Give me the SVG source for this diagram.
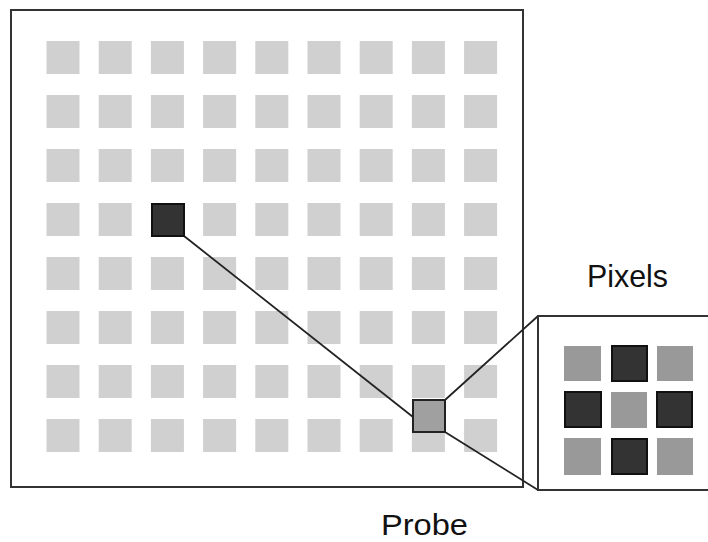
<svg xmlns="http://www.w3.org/2000/svg" width="708" height="542" viewBox="0 0 708 542">
<defs>
<style>
.cell{fill:#d0d0d0}
.frame{fill:#fff;stroke:#333;stroke-width:2}
.dark{fill:#333;stroke:#111;stroke-width:2}
.mid{fill:#999}
.probe{fill:#a0a0a0;stroke:#222;stroke-width:2}
.conn{stroke:#222;stroke-width:1.8;fill:none}
.lbl{font-family:"Liberation Sans",Arial,sans-serif;font-size:32px;fill:#111}
</style>
<rect id="c" class="cell" width="33" height="33"/>
</defs>
<rect width="708" height="542" fill="#fff"/>
<g id="image">
<rect class="frame" x="11" y="10" width="512" height="477"/>
<g id="grid">
<use href="#c" x="46.5" y="41"/><use href="#c" x="98.7" y="41"/><use href="#c" x="150.9" y="41"/><use href="#c" x="203.1" y="41"/><use href="#c" x="255.3" y="41"/><use href="#c" x="307.5" y="41"/><use href="#c" x="359.7" y="41"/><use href="#c" x="411.9" y="41"/><use href="#c" x="464.1" y="41"/>
<use href="#c" x="46.5" y="95"/><use href="#c" x="98.7" y="95"/><use href="#c" x="150.9" y="95"/><use href="#c" x="203.1" y="95"/><use href="#c" x="255.3" y="95"/><use href="#c" x="307.5" y="95"/><use href="#c" x="359.7" y="95"/><use href="#c" x="411.9" y="95"/><use href="#c" x="464.1" y="95"/>
<use href="#c" x="46.5" y="149"/><use href="#c" x="98.7" y="149"/><use href="#c" x="150.9" y="149"/><use href="#c" x="203.1" y="149"/><use href="#c" x="255.3" y="149"/><use href="#c" x="307.5" y="149"/><use href="#c" x="359.7" y="149"/><use href="#c" x="411.9" y="149"/><use href="#c" x="464.1" y="149"/>
<use href="#c" x="46.5" y="203"/><use href="#c" x="98.7" y="203"/><use href="#c" x="203.1" y="203"/><use href="#c" x="255.3" y="203"/><use href="#c" x="307.5" y="203"/><use href="#c" x="359.7" y="203"/><use href="#c" x="411.9" y="203"/><use href="#c" x="464.1" y="203"/>
<use href="#c" x="46.5" y="257"/><use href="#c" x="98.7" y="257"/><use href="#c" x="150.9" y="257"/><use href="#c" x="203.1" y="257"/><use href="#c" x="255.3" y="257"/><use href="#c" x="307.5" y="257"/><use href="#c" x="359.7" y="257"/><use href="#c" x="411.9" y="257"/><use href="#c" x="464.1" y="257"/>
<use href="#c" x="46.5" y="311"/><use href="#c" x="98.7" y="311"/><use href="#c" x="150.9" y="311"/><use href="#c" x="203.1" y="311"/><use href="#c" x="255.3" y="311"/><use href="#c" x="307.5" y="311"/><use href="#c" x="359.7" y="311"/><use href="#c" x="411.9" y="311"/><use href="#c" x="464.1" y="311"/>
<use href="#c" x="46.5" y="365"/><use href="#c" x="98.7" y="365"/><use href="#c" x="150.9" y="365"/><use href="#c" x="203.1" y="365"/><use href="#c" x="255.3" y="365"/><use href="#c" x="307.5" y="365"/><use href="#c" x="359.7" y="365"/><use href="#c" x="411.9" y="365"/><use href="#c" x="464.1" y="365"/>
<use href="#c" x="46.5" y="419"/><use href="#c" x="98.7" y="419"/><use href="#c" x="150.9" y="419"/><use href="#c" x="203.1" y="419"/><use href="#c" x="255.3" y="419"/><use href="#c" x="307.5" y="419"/><use href="#c" x="359.7" y="419"/><use href="#c" x="411.9" y="419"/><use href="#c" x="464.1" y="419"/>
</g>
</g>
<g id="connectors">
<line class="conn" x1="184" y1="236" x2="413" y2="417"/>
<line class="conn" x1="445" y1="400" x2="538" y2="316"/>
<line class="conn" x1="445" y1="432" x2="538" y2="490"/>
</g>
<g id="source">
<rect class="dark" x="152" y="204" width="32" height="32"/>
</g>
<g id="probe">
<rect class="probe" x="413" y="400" width="32" height="32"/>
</g>
<g id="pixels">
<rect class="frame" x="538" y="316" width="180" height="174"/>
<rect class="mid" x="564" y="346" width="37" height="35"/>
<rect class="dark" x="612" y="346" width="35" height="35"/>
<rect class="mid" x="657" y="346" width="36" height="35"/>
<rect class="dark" x="565" y="392" width="36" height="35"/>
<rect class="mid" x="611" y="392" width="36" height="36"/>
<rect class="dark" x="657" y="392" width="35" height="35"/>
<rect class="mid" x="564" y="438" width="37" height="37"/>
<rect class="dark" x="612" y="439" width="35" height="35"/>
<rect class="mid" x="657" y="438" width="36" height="37"/>
</g>
<g id="labels">
<text class="lbl" x="587" y="287" textLength="81" lengthAdjust="spacingAndGlyphs">Pixels</text>
<text class="lbl" x="381" y="535" style="font-size:30px" textLength="87" lengthAdjust="spacingAndGlyphs">Probe</text>
</g>
</svg>
